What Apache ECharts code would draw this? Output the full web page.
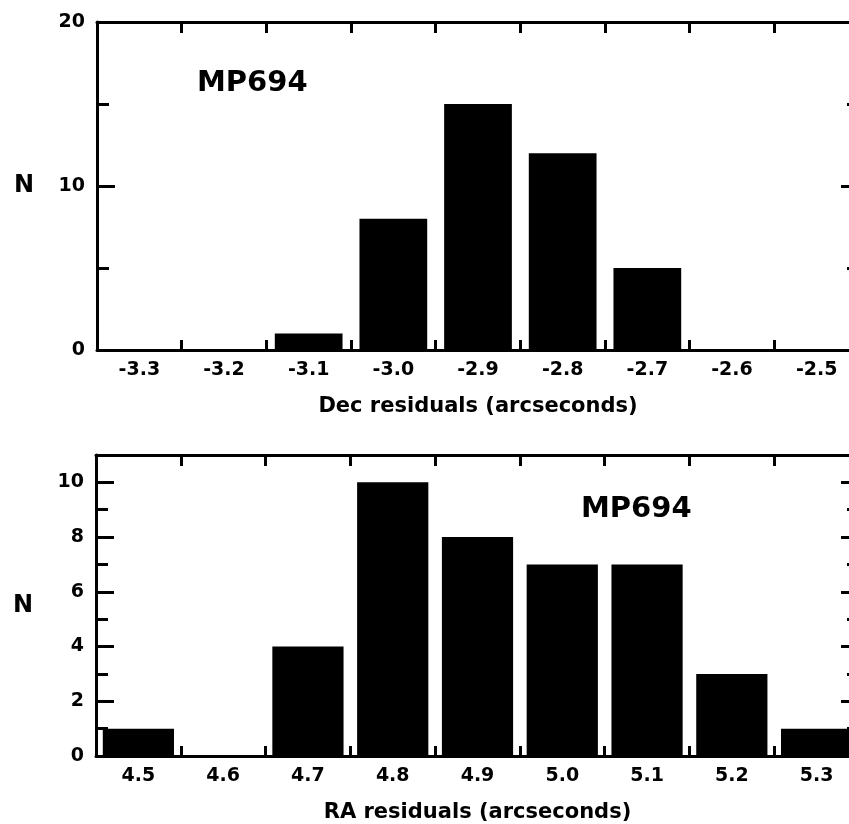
<!DOCTYPE html>
<html>
<head>
<meta charset="utf-8">
<script src="https://cdn.jsdelivr.net/npm/echarts@6/dist/echarts.min.js"></script>
<style>
  html, body { margin: 0; padding: 0; background: #fff; overflow: hidden; }
  /* the original frame runs a little past the right edge of the picture */
  #main { width: 862px; height: 824px; }
</style>
</head>
<body>
<div id="main"></div>
<script>
// Dec residual histogram (upper panel)
var decBins = ['-3.3', '-3.2', '-3.1', '-3.0', '-2.9', '-2.8', '-2.7', '-2.6', '-2.5'];
var decCounts = [0, 0, 1, 8, 15, 12, 5, 0, 0];
var decMax = 20, decMajor = 10, decMinor = 5;

// RA residual histogram (lower panel)
var raBins = ['4.5', '4.6', '4.7', '4.8', '4.9', '5.0', '5.1', '5.2', '5.3'];
var raCounts = [1, 0, 4, 10, 8, 7, 7, 3, 1];
var raMax = 11, raMajor = 2, raMinor = 1;

var FONT = 'DejaVu Sans';
var INK = '#000';

var chart = echarts.init(document.getElementById('main'), null, {renderer: 'canvas'});

function lineStyle() {
    return {color: INK, width: 3};
}

function xAxes(grid, bins, title) {
    return [{
        gridIndex: grid, type: 'category', data: bins, position: 'bottom',
        name: title, nameLocation: 'middle', nameGap: 46,
        nameTextStyle: {color: INK, fontFamily: FONT, fontWeight: 'bold', fontSize: 21},
        axisLine: {show: true, onZero: false, lineStyle: lineStyle()},
        axisTick: {show: true, inside: true, interval: 0, alignWithLabel: false, length: 10, lineStyle: lineStyle()},
        axisLabel: {interval: 0, margin: 11, color: INK, fontFamily: FONT, fontWeight: 'bold', fontSize: 19}
    }, {
        gridIndex: grid, type: 'category', data: bins, position: 'top',
        axisLine: {show: true, onZero: false, lineStyle: lineStyle()},
        axisTick: {show: true, inside: true, interval: 0, alignWithLabel: false, length: 11, lineStyle: lineStyle()},
        axisLabel: {show: false}
    }];
}

function yAxes(grid, max, major, minor) {
    var list = [];
    ['left', 'right'].forEach(function (side) {
        list.push({
            gridIndex: grid, type: 'value', min: 0, max: max, interval: major, position: side,
            name: side === 'left' ? 'N' : '', nameLocation: 'middle', nameRotate: 0, nameGap: 63,
            nameTextStyle: {color: INK, fontFamily: FONT, fontWeight: 'bold', fontSize: 24},
            axisLine: {show: true, lineStyle: lineStyle()},
            axisTick: {show: true, inside: true, length: 18, lineStyle: lineStyle()},
            axisLabel: {show: side === 'left', showMaxLabel: max % major === 0, margin: 12,
                color: INK, fontFamily: FONT, fontWeight: 'bold', fontSize: 19},
            splitLine: {show: false}
        });
        list.push({
            gridIndex: grid, type: 'value', min: 0, max: max, interval: minor, position: side,
            axisLine: {show: false},
            axisTick: {show: true, inside: true, length: 12, lineStyle: lineStyle()},
            axisLabel: {show: false},
            splitLine: {show: false}
        });
    });
    return list;
}

var option = {
    backgroundColor: '#fff',
    animation: false,
    title: [
        {text: 'MP694', left: 197, top: 69, padding: 0,
         textStyle: {color: INK, fontFamily: FONT, fontWeight: 'bold', fontSize: 29}},
        {text: 'MP694', left: 581, top: 495, padding: 0,
         textStyle: {color: INK, fontFamily: FONT, fontWeight: 'bold', fontSize: 29}}
    ],
    grid: [
        {left: 97, right: 3, top: 22, height: 328},
        {left: 96, right: 3, top: 455, height: 302}
    ],
    xAxis: xAxes(0, decBins, 'Dec residuals (arcseconds)').concat(
           xAxes(1, raBins, 'RA residuals (arcseconds)')),
    yAxis: yAxes(0, decMax, decMajor, decMinor).concat(
           yAxes(1, raMax, raMajor, raMinor)),
    series: [
        {type: 'bar', xAxisIndex: 0, yAxisIndex: 0, data: decCounts,
         barCategoryGap: '20%', itemStyle: {color: INK}},
        {type: 'bar', xAxisIndex: 2, yAxisIndex: 4, data: raCounts,
         barCategoryGap: '16%', itemStyle: {color: INK}}
    ]
};

chart.setOption(option);
</script>
</body>
</html>
